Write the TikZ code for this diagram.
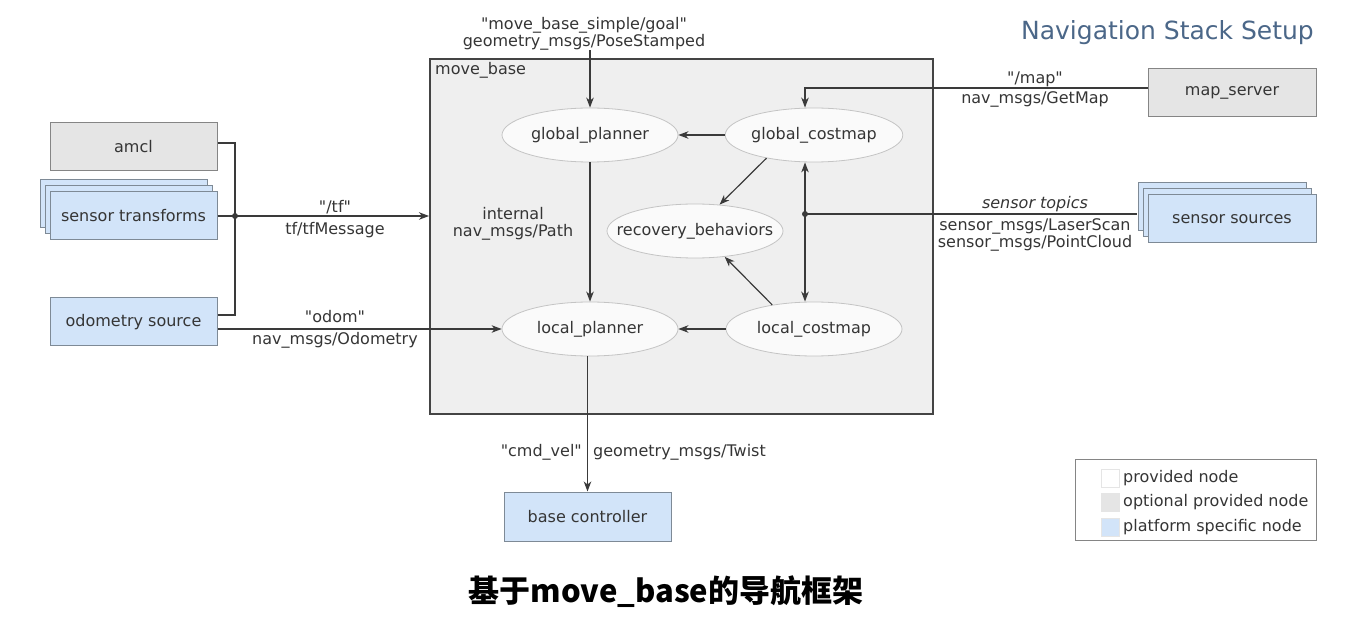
\documentclass[tikz,border=0pt]{standalone}
\usepackage{fontspec}
\setmainfont{DejaVu Sans}[Ligatures=TeXOff]
\newfontfamily\cjk{Noto Sans CJK SC}
\usetikzlibrary{shapes.geometric,arrows.meta,shadows}
\newcommand\dq{\char34\relax}
\definecolor{txt}{HTML}{353535}
\definecolor{lin}{HTML}{3a3a3a}
\definecolor{boxline}{HTML}{858585}
\definecolor{optfill}{HTML}{E5E5E5}
\definecolor{platfill}{HTML}{D2E4F9}
\definecolor{platline}{HTML}{7E8A96}
\definecolor{ovalfill}{HTML}{FAFAFA}
\definecolor{ovalline}{HTML}{C4C4C4}
\definecolor{mbfill}{HTML}{EFEFEF}
\definecolor{mbline}{HTML}{444444}
\definecolor{titlecol}{HTML}{4B6788}
\begin{document}
\begin{tikzpicture}[x=1pt,y=-1pt,
  font=\fontsize{16}{17}\selectfont, text=txt,
  box/.style={draw=boxline, line width=1pt, minimum width=167pt, minimum height=48pt, inner sep=0pt},
  optbox/.style={box, fill=optfill},
  platbox/.style={box, draw=platline, fill=platfill},
  stackbox/.style={platbox, double copy shadow={shadow xshift=-5pt, shadow yshift=6pt, draw=platline, fill=platfill, line width=1pt}},
  oval/.style={ellipse, draw=ovalline, fill=ovalfill, line width=0.8pt, minimum width=176pt, minimum height=54pt, inner sep=0pt},
  conn/.style={draw=lin, line width=1.2pt},
  arr/.style={conn, -{Stealth[length=10pt,width=7.5pt,inset=3pt]}},
  darr/.style={conn, {Stealth[length=10pt,width=7.5pt,inset=3pt]}-{Stealth[length=10pt,width=7.5pt,inset=3pt]}},
  lbl/.style={inner sep=0pt, align=center},
  swatch/.style={draw=black!10, line width=0.6pt, minimum width=18pt, minimum height=18pt, inner sep=0pt},
  dot/.style={fill=lin},
]
\useasboundingbox (0,0) rectangle (1362,617);

% title
\node[lbl, anchor=east, text=titlecol, font=\fontsize{25}{27}\selectfont] (title) at (1314,33) {Navigation Stack Setup};

% move_base container
\node[draw=mbline, fill=mbfill, line width=2pt, minimum width=503pt, minimum height=355pt, inner sep=0pt] (mb) at (681.5,236.5) {};
\node[lbl, anchor=north west] (mblbl) at ([xshift=6pt,yshift=-4pt]mb.north west) {move\_base};

% ellipses
\node[oval] (gp) at (590,135) {global\_planner};
\node[oval] (gc) at (814,135) {global\_costmap};
\node[oval, inner xsep=-18pt] (rb) at (695,231) {recovery\_behaviors};
\node[oval] (lp) at (590,329) {local\_planner};
\node[oval] (lc) at (814,329) {local\_costmap};

% left boxes
\node[optbox] (amcl) at (133.5,147) {amcl};
\node[stackbox] (st) at (133.5,216) {sensor transforms};
\node[platbox] (odom) at (133.5,322) {odometry source};

% right boxes
\node[optbox, minimum width=168pt] (ms) at (1232,93) {map\_server};
\node[stackbox, minimum width=168pt] (ss) at (1232,219) {sensor sources};

% bottom box
\node[platbox, minimum height=49pt] (bc) at (587.5,516.5) {base controller};

% labels
\node[lbl] (goal) at (584,33.5) {\dq move\_base\_simple/goal\dq\\geometry\_msgs/PoseStamped};
\node[lbl] (tf1) at (335,207) {\dq/tf\dq};
\node[lbl] (tf2) at (335,230) {tf/tfMessage};
\node[lbl] (od1) at (335,317) {\dq odom\dq};
\node[lbl] (od2) at (335,340) {nav\_msgs/Odometry};
\node[lbl] (int) at (513,224) {internal\\nav\_msgs/Path};
\node[lbl] (map1) at (1035,79) {\dq/map\dq};
\node[lbl] (map2) at (1035,99) {nav\_msgs/GetMap};
\node[lbl, font=\fontsize{16}{17}\selectfont\itshape] (sen1) at (1035,204) {sensor topics};
\node[lbl] (sen2) at (1035,234.5) {sensor\_msgs/LaserScan\\sensor\_msgs/PointCloud};
\node[lbl, anchor=east] (cv1) at (582,452) {\dq cmd\_vel\dq};
\node[lbl, anchor=west] (cv2) at (593,452) {geometry\_msgs/Twist};

% junctions
\coordinate (j) at (235,216);
\coordinate (sj) at (805,214);

% left connectors
\draw[conn] ([yshift=4pt]amcl.east) -| (j);
\draw[conn] ([yshift=7pt]odom.east) -| (j);
\draw[arr] (st.east) -- (mb.west |- st.east);
\fill[dot] (j) circle (3pt);
\draw[arr] (odom.east |- lp.west) -- (lp.west);

% internal connectors
\draw[arr] (goal.south -| gp.north) -- (gp.north);
\draw[arr] (gc.west) -- (gp.east);
\draw[arr] (gp.south) -- (lp.north);
\draw[arr] (lc.west) -- (lp.east);
\draw[arr] (gc.206) -- (rb.47);
\draw[arr] (lc.150) -- (rb.-41);
\draw[darr] ([xshift=-9pt]gc.south) -- ([xshift=-9pt]lc.north);
\draw[conn] (sj) -- ([xshift=-11pt]ss.west |- sj);
\fill[dot] (sj) circle (3pt);
\draw[arr] ([yshift=5pt]ms.west) -| ([xshift=-9pt]gc.north);

% bottom connector
\draw[arr] (lp.south -| bc.north) -- (bc.north);

% legend
\node[draw=boxline, line width=1pt, minimum width=241pt, minimum height=81pt, inner sep=0pt] (leg) at (1195.5,499.5) {};
\node[swatch, fill=white] (lg1) at (1110,478) {};
\node[swatch, fill=optfill] (lg2) at (1110,502) {};
\node[swatch, fill=platfill] (lg3) at (1110,527) {};
\node[lbl, anchor=west] (lt1) at (1123,478) {provided node};
\node[lbl, anchor=west] (lt2) at (1123,502) {optional provided node};
\node[lbl, anchor=west] (lt3) at (1123,527) {platform specific node};

% caption
\node[lbl, text=black, font=\cjk\bfseries\fontsize{31}{33}\selectfont] (cap) at (666,592) {基于move\_base的导航框架};
\end{tikzpicture}
\end{document}
